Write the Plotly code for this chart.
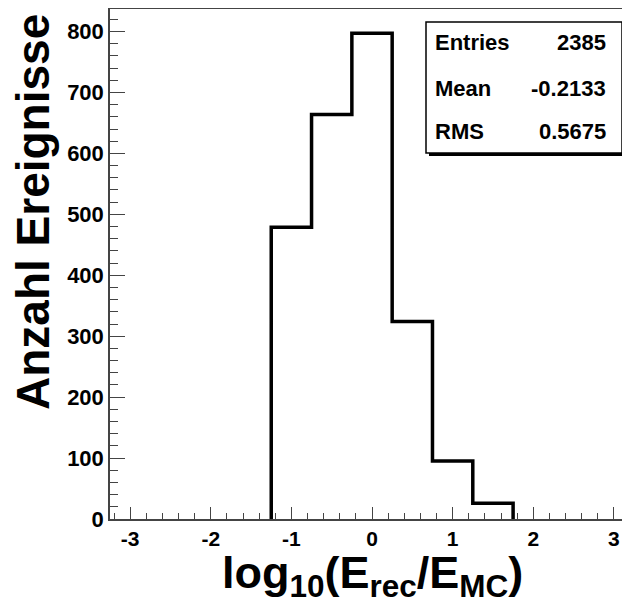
import plotly.graph_objects as go

# Histogram data (bin edges and counts)
bin_edges = [-1.25, -0.75, -0.25, 0.25, 0.75, 1.25, 1.75]
counts = [479, 664, 797, 324, 95, 26]

x_tick_vals = [-3, -2, -1, 0, 1, 2, 3]
x_tick_text = ["-3", "-2", "-1", "0", "1", "2", "3"]
y_tick_vals = [0, 100, 200, 300, 400, 500, 600, 700, 800]

stats_labels = ["Entries", "Mean", "RMS"]
stats_values = ["2385", "-0.2133", "0.5675"]

FONT = "Liberation Sans, Arial, Helvetica, sans-serif"
OFF = 8  # default page body margin
W, H = 630 - OFF, 606 - OFF
# plot area in page pixels
L, R, T, B = 110, 630, 9, 519

def px(x):
    return (x - L) / (R - L)

def py(y):
    return (B - y) / (B - T)

xs = [bin_edges[0]] + bin_edges
ys = [0] + counts + [0]

fig = go.Figure()
fig.add_trace(go.Scatter(x=xs, y=ys, mode="lines", line=dict(shape="hv", color="black", width=3.5),
                         hoverinfo="skip", showlegend=False))

axis_col = "#444444"
fig.update_layout(
    width=W, height=H,
    margin=dict(l=L - OFF, r=0, t=T - OFF, b=H - (B - OFF), pad=0),
    plot_bgcolor="white", paper_bgcolor="white",
    showlegend=False,
    font=dict(family=FONT, color="black"),
    xaxis=dict(range=[-3.25, 3.2], tickvals=x_tick_vals, ticktext=x_tick_text,
               ticks="inside", ticklen=12, tickwidth=1.2, tickcolor=axis_col,
               minor=dict(dtick=0.2, tick0=0, ticks="inside", ticklen=6, tickwidth=1, tickcolor=axis_col),
               showline=True, linecolor=axis_col, linewidth=1.5, mirror=True,
               showgrid=False, zeroline=False,
               tickfont=dict(family=FONT, size=21, color="black", weight="bold")),
    yaxis=dict(range=[0, 837], tickvals=y_tick_vals,
               ticks="inside", ticklen=15, tickwidth=1.2, tickcolor=axis_col,
               minor=dict(dtick=20, tick0=0, ticks="inside", ticklen=8, tickwidth=1, tickcolor=axis_col),
               showline=True, linecolor=axis_col, linewidth=1.5,
               showgrid=False, zeroline=False,
               tickfont=dict(family=FONT, size=22, color="black", weight="bold")),
)

# Stats box with shadow
fig.add_shape(type="rect", xref="paper", yref="paper",
              x0=px(429), x1=px(625), y0=py(156), y1=py(25),
              fillcolor="black", line=dict(width=0), layer="above")
fig.add_shape(type="rect", xref="paper", yref="paper",
              x0=px(426), x1=px(622), y0=py(153), y1=py(22),
              fillcolor="white", line=dict(color="black", width=1.5), layer="above")

rows_y = [43, 88, 131]
for lab, val, yy in zip(stats_labels, stats_values, rows_y):
    fig.add_annotation(text=lab, xref="paper", yref="paper", x=px(433), y=py(yy),
                       xanchor="left", yanchor="middle", showarrow=False,
                       font=dict(family=FONT, size=22, color="black", weight="bold"))
    fig.add_annotation(text=val, xref="paper", yref="paper", x=px(608), y=py(yy),
                       xanchor="right", yanchor="middle", showarrow=False,
                       font=dict(family=FONT, size=22, color="black", weight="bold"))

# Axis titles
fig.add_annotation(text="Anzahl Ereignisse", xref="paper", yref="paper",
                   x=px(33), y=py(212), xanchor="center", yanchor="middle",
                   textangle=-90, showarrow=False,
                   font=dict(family=FONT, size=46, color="black", weight="bold"))
fig.add_annotation(text="log<sub>10</sub>(E<sub>rec</sub>/E<sub>MC</sub>)", xref="paper", yref="paper",
                   x=px(372), y=py(575), xanchor="center", yanchor="middle",
                   showarrow=False,
                   font=dict(family=FONT, size=45, color="black", weight="bold"))

fig.write_html("out.html")
